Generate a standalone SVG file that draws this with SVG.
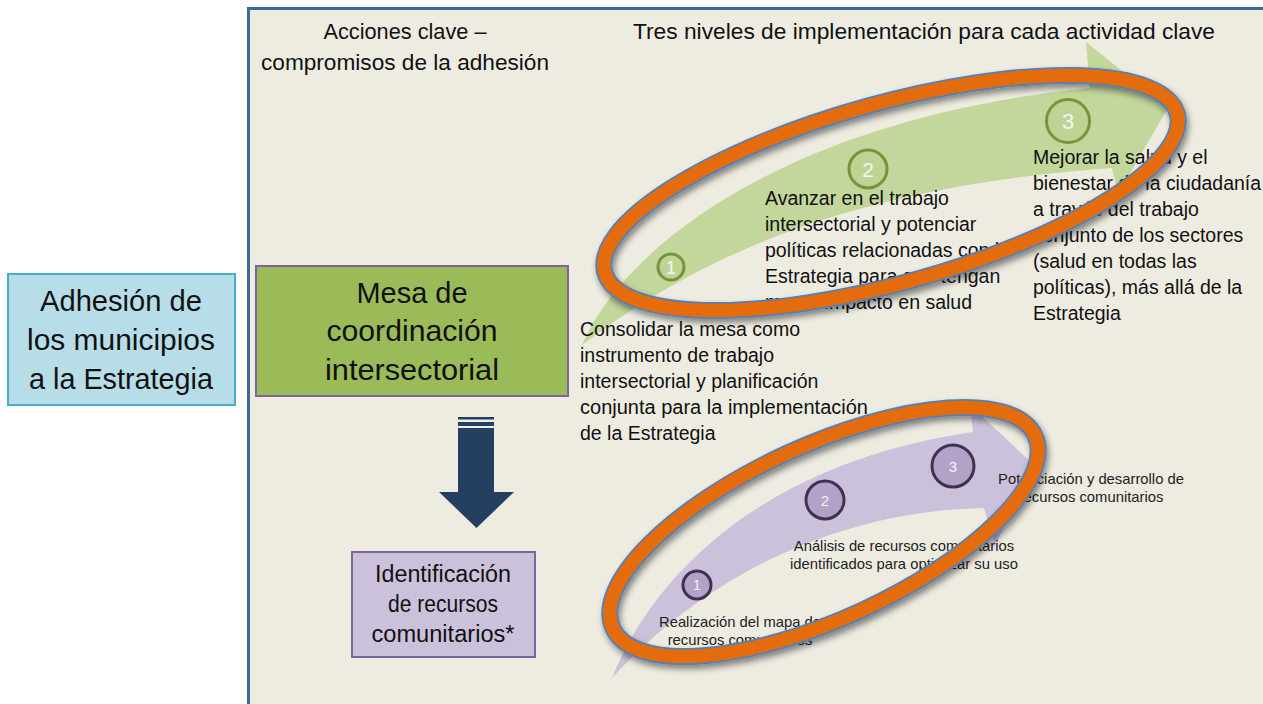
<svg xmlns="http://www.w3.org/2000/svg" width="1263" height="704" viewBox="0 0 1263 704">
<style>
.t{font-family:"Liberation Sans",Arial,sans-serif;fill:#111}
.hd{font-size:22.5px}
.big{font-size:30px;text-anchor:middle}
.mid{font-size:23px;text-anchor:middle}
.body{font-size:19.5px}
.small{font-size:14.8px;text-anchor:middle;fill:#222}
.num{font-family:"Liberation Sans",Arial,sans-serif;fill:#f4f4f4;text-anchor:middle}
.gc{fill:#bfd494;stroke:#77933c;stroke-width:3}
.pc{fill:#b3a2c7;stroke:#403152;stroke-width:3}
.ringB{fill:none;stroke:#4f81bd;stroke-width:17}
.ringO{fill:none;stroke:#e46c0a;stroke-width:13.5}
</style>
<defs>
<filter id="sh" x="-20%" y="-20%" width="140%" height="140%">
<feDropShadow dx="2" dy="4" stdDeviation="3" flood-color="#000" flood-opacity="0.45"/>
</filter>
</defs>
<rect width="1263" height="704" fill="#ffffff"/>
<rect id="panel" x="248.5" y="8.5" width="1030" height="720" fill="#eeece1" stroke="#41679a" stroke-width="3"/>

<g id="headers">
<text class="t hd" x="405" y="39" text-anchor="middle" textLength="163" lengthAdjust="spacingAndGlyphs">Acciones clave –</text>
<text class="t hd" x="261" y="70" textLength="288" lengthAdjust="spacingAndGlyphs">compromisos de la adhesión</text>
<text class="t hd" x="633" y="39" textLength="582" lengthAdjust="spacingAndGlyphs">Tres niveles de implementación para cada actividad clave</text>
</g>

<g id="node-adhesion">
<rect x="8" y="274" width="227" height="131" fill="#b7dee8" stroke="#4bacc6" stroke-width="2"/>
<text class="t big" x="121" y="311" textLength="162" lengthAdjust="spacingAndGlyphs">Adhesión de</text>
<text class="t big" x="121" y="350" textLength="188" lengthAdjust="spacingAndGlyphs">los municipios</text>
<text class="t big" x="121" y="389" textLength="184" lengthAdjust="spacingAndGlyphs">a la Estrategia</text>
</g>

<g id="node-mesa">
<rect x="256" y="266" width="312" height="130" fill="#9bbb59" stroke="#7e649e" stroke-width="2"/>
<text class="t big" x="412" y="303" textLength="111" lengthAdjust="spacingAndGlyphs">Mesa de</text>
<text class="t big" x="412" y="341" textLength="171" lengthAdjust="spacingAndGlyphs">coordinación</text>
<text class="t big" x="412" y="380" textLength="174" lengthAdjust="spacingAndGlyphs">intersectorial</text>
</g>

<g id="node-identificacion">
<rect x="352" y="552" width="183" height="105" fill="#ccc1da" stroke="#8064a2" stroke-width="2"/>
<text class="t mid" x="443" y="582" textLength="136" lengthAdjust="spacingAndGlyphs">Identificación</text>
<text class="t mid" x="443" y="612" textLength="110" lengthAdjust="spacingAndGlyphs">de recursos</text>
<text class="t mid" x="443" y="642" textLength="143" lengthAdjust="spacingAndGlyphs">comunitarios*</text>
</g>

<g id="connectors">
<rect x="458" y="417" width="36" height="2.5" fill="#243f60"/>
<rect x="458" y="422" width="36" height="4" fill="#243f60"/>
<path d="M458 428 H494 V492 H514 L476.5 528 L439 492 H458 Z" fill="#243f60"/>
</g>

<g id="progress-top">
<path d="M582 345 C625 245 790 118 1090 88 L1086 42 L1168 108 L1118 194 L1112 168 C880 185 720 240 582 345 Z" fill="#c3d69b"/>
<circle class="gc" cx="671" cy="267" r="13"/>
<text class="num" x="671" y="274" font-size="19">1</text>
<circle class="gc" cx="868" cy="169" r="19"/>
<text class="num" x="868" y="176.5" font-size="21">2</text>
<circle class="gc" cx="1068" cy="121" r="21.5"/>
<text class="num" x="1068" y="129" font-size="22">3</text>
<text class="t body" x="765" y="205">Avanzar en el trabajo</text>
<text class="t body" x="765" y="231">intersectorial y potenciar</text>
<text class="t body" x="765" y="257">políticas relacionadas con la</text>
<text class="t body" x="765" y="283">Estrategia para que tengan</text>
<text class="t body" x="765" y="309">mayor impacto en salud</text>
<text class="t body" x="1033" y="164">Mejorar  la salud y el</text>
<text class="t body" x="1033" y="190" textLength="228" lengthAdjust="spacingAndGlyphs">bienestar de la ciudadanía</text>
<text class="t body" x="1033" y="216">a través del trabajo</text>
<text class="t body" x="1033" y="242">conjunto de los sectores</text>
<text class="t body" x="1033" y="268">(salud en todas las</text>
<text class="t body" x="1033" y="294">políticas), más allá de la</text>
<text class="t body" x="1033" y="320">Estrategia</text>
<text class="t body" x="580" y="336">Consolidar la mesa como</text>
<text class="t body" x="580" y="362">instrumento de trabajo</text>
<text class="t body" x="580" y="388">intersectorial y planificación</text>
<text class="t body" x="580" y="414" textLength="288" lengthAdjust="spacingAndGlyphs">conjunta para la implementación</text>
<text class="t body" x="580" y="440">de la Estrategia</text>
</g>

<g id="progress-bottom">
<path d="M612 678 C660 560 780 460 973 432 L970 405 L1035 466 L995 545 L984 508 C860 510 720 560 612 678 Z" fill="#ccc1da"/>
<circle class="pc" cx="697" cy="585" r="14"/>
<text class="num" x="697" y="590" font-size="14">1</text>
<circle class="pc" cx="825" cy="500" r="19"/>
<text class="num" x="825" y="506" font-size="15">2</text>
<circle class="pc" cx="953" cy="466" r="21"/>
<text class="num" x="953" y="472" font-size="15">3</text>
<text class="t small" x="1091" y="484">Potenciación y desarrollo  de</text>
<text class="t small" x="1091" y="502">recursos comunitarios</text>
<text class="t small" x="904" y="551">Análisis de recursos comunitarios</text>
<text class="t small" x="904" y="569">identificados para  optimizar su uso</text>
<text class="t small" x="740" y="627">Realización del mapa de</text>
<text class="t small" x="740" y="645">recursos comunitarios</text>
</g>

<g id="highlight-top" filter="url(#sh)">
<ellipse class="ringB" cx="891" cy="193" rx="297" ry="90" transform="rotate(-15.5 891 193)"/>
<ellipse class="ringO" cx="891" cy="193" rx="297" ry="90" transform="rotate(-15.5 891 193)"/>
</g>
<g id="highlight-bottom" filter="url(#sh)">
<ellipse class="ringB" cx="824" cy="532" rx="232" ry="87" transform="rotate(-24.5 824 532)"/>
<ellipse class="ringO" cx="824" cy="532" rx="232" ry="87" transform="rotate(-24.5 824 532)"/>
</g>
</svg>
